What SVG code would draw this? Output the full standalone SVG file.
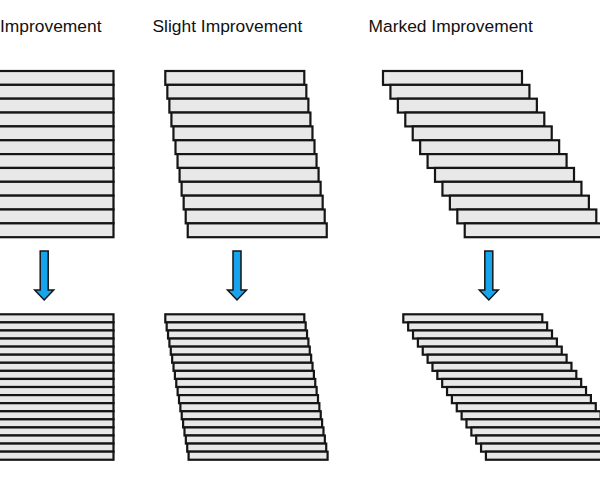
<svg xmlns="http://www.w3.org/2000/svg" width="600" height="480" viewBox="0 0 600 480">
<style>
.bar{fill:#e8e8e8;stroke:#151515;stroke-width:2.2;stroke-linejoin:miter}
.title{font-family:"Liberation Sans",Arial,sans-serif;font-size:17.4px;fill:#111}
.arrow{fill:#18a4ec;stroke:#151515;stroke-width:1.5;stroke-linejoin:miter}
</style>
<rect width="600" height="480" fill="#fff"/>
<g id="titles">
<text class="title" x="0" y="32">Improvement</text>
<text class="title" x="152.5" y="32">Slight Improvement</text>
<text class="title" x="368.5" y="32">Marked Improvement</text>
</g>
<g id="none-before">
<rect class="bar" x="-25.5" y="71" width="139" height="13.85"/>
<rect class="bar" x="-25.5" y="84.85" width="139" height="13.85"/>
<rect class="bar" x="-25.5" y="98.7" width="139" height="13.85"/>
<rect class="bar" x="-25.5" y="112.55" width="139" height="13.85"/>
<rect class="bar" x="-25.5" y="126.4" width="139" height="13.85"/>
<rect class="bar" x="-25.5" y="140.25" width="139" height="13.85"/>
<rect class="bar" x="-25.5" y="154.1" width="139" height="13.85"/>
<rect class="bar" x="-25.5" y="167.95" width="139" height="13.85"/>
<rect class="bar" x="-25.5" y="181.8" width="139" height="13.85"/>
<rect class="bar" x="-25.5" y="195.65" width="139" height="13.85"/>
<rect class="bar" x="-25.5" y="209.5" width="139" height="13.85"/>
<rect class="bar" x="-25.5" y="223.35" width="139" height="13.85"/>
</g>
<g id="slight-before">
<rect class="bar" x="165.3" y="71" width="139" height="13.85"/>
<rect class="bar" x="167.34" y="84.85" width="139" height="13.85"/>
<rect class="bar" x="169.38" y="98.7" width="139" height="13.85"/>
<rect class="bar" x="171.42" y="112.55" width="139" height="13.85"/>
<rect class="bar" x="173.46" y="126.4" width="139" height="13.85"/>
<rect class="bar" x="175.5" y="140.25" width="139" height="13.85"/>
<rect class="bar" x="177.54" y="154.1" width="139" height="13.85"/>
<rect class="bar" x="179.58" y="167.95" width="139" height="13.85"/>
<rect class="bar" x="181.62" y="181.8" width="139" height="13.85"/>
<rect class="bar" x="183.66" y="195.65" width="139" height="13.85"/>
<rect class="bar" x="185.7" y="209.5" width="139" height="13.85"/>
<rect class="bar" x="187.74" y="223.35" width="139" height="13.85"/>
</g>
<g id="marked-before">
<rect class="bar" x="383" y="71" width="139" height="13.85"/>
<rect class="bar" x="390.43" y="84.85" width="139" height="13.85"/>
<rect class="bar" x="397.86" y="98.7" width="139" height="13.85"/>
<rect class="bar" x="405.29" y="112.55" width="139" height="13.85"/>
<rect class="bar" x="412.72" y="126.4" width="139" height="13.85"/>
<rect class="bar" x="420.15" y="140.25" width="139" height="13.85"/>
<rect class="bar" x="427.58" y="154.1" width="139" height="13.85"/>
<rect class="bar" x="435.01" y="167.95" width="139" height="13.85"/>
<rect class="bar" x="442.44" y="181.8" width="139" height="13.85"/>
<rect class="bar" x="449.87" y="195.65" width="139" height="13.85"/>
<rect class="bar" x="457.3" y="209.5" width="139" height="13.85"/>
<rect class="bar" x="464.73" y="223.35" width="139" height="13.85"/>
</g>
<g id="none-after">
<rect class="bar" x="-25.5" y="314.3" width="139" height="8.08"/>
<rect class="bar" x="-25.5" y="322.38" width="139" height="8.08"/>
<rect class="bar" x="-25.5" y="330.46" width="139" height="8.08"/>
<rect class="bar" x="-25.5" y="338.54" width="139" height="8.08"/>
<rect class="bar" x="-25.5" y="346.62" width="139" height="8.08"/>
<rect class="bar" x="-25.5" y="354.7" width="139" height="8.08"/>
<rect class="bar" x="-25.5" y="362.78" width="139" height="8.08"/>
<rect class="bar" x="-25.5" y="370.86" width="139" height="8.08"/>
<rect class="bar" x="-25.5" y="378.94" width="139" height="8.08"/>
<rect class="bar" x="-25.5" y="387.02" width="139" height="8.08"/>
<rect class="bar" x="-25.5" y="395.1" width="139" height="8.08"/>
<rect class="bar" x="-25.5" y="403.18" width="139" height="8.08"/>
<rect class="bar" x="-25.5" y="411.26" width="139" height="8.08"/>
<rect class="bar" x="-25.5" y="419.34" width="139" height="8.08"/>
<rect class="bar" x="-25.5" y="427.42" width="139" height="8.08"/>
<rect class="bar" x="-25.5" y="435.5" width="139" height="8.08"/>
<rect class="bar" x="-25.5" y="443.58" width="139" height="8.08"/>
<rect class="bar" x="-25.5" y="451.66" width="139" height="8.08"/>
</g>
<g id="slight-after">
<rect class="bar" x="165.3" y="314.3" width="139" height="8.08"/>
<rect class="bar" x="166.67" y="322.38" width="139" height="8.08"/>
<rect class="bar" x="168.04" y="330.46" width="139" height="8.08"/>
<rect class="bar" x="169.41" y="338.54" width="139" height="8.08"/>
<rect class="bar" x="170.78" y="346.62" width="139" height="8.08"/>
<rect class="bar" x="172.15" y="354.7" width="139" height="8.08"/>
<rect class="bar" x="173.52" y="362.78" width="139" height="8.08"/>
<rect class="bar" x="174.89" y="370.86" width="139" height="8.08"/>
<rect class="bar" x="176.26" y="378.94" width="139" height="8.08"/>
<rect class="bar" x="177.63" y="387.02" width="139" height="8.08"/>
<rect class="bar" x="179" y="395.1" width="139" height="8.08"/>
<rect class="bar" x="180.37" y="403.18" width="139" height="8.08"/>
<rect class="bar" x="181.74" y="411.26" width="139" height="8.08"/>
<rect class="bar" x="183.11" y="419.34" width="139" height="8.08"/>
<rect class="bar" x="184.48" y="427.42" width="139" height="8.08"/>
<rect class="bar" x="185.85" y="435.5" width="139" height="8.08"/>
<rect class="bar" x="187.22" y="443.58" width="139" height="8.08"/>
<rect class="bar" x="188.59" y="451.66" width="139" height="8.08"/>
</g>
<g id="marked-after">
<rect class="bar" x="403.3" y="314.3" width="139" height="8.08"/>
<rect class="bar" x="408.16" y="322.38" width="139" height="8.08"/>
<rect class="bar" x="413.02" y="330.46" width="139" height="8.08"/>
<rect class="bar" x="417.88" y="338.54" width="139" height="8.08"/>
<rect class="bar" x="422.74" y="346.62" width="139" height="8.08"/>
<rect class="bar" x="427.6" y="354.7" width="139" height="8.08"/>
<rect class="bar" x="432.46" y="362.78" width="139" height="8.08"/>
<rect class="bar" x="437.32" y="370.86" width="139" height="8.08"/>
<rect class="bar" x="442.18" y="378.94" width="139" height="8.08"/>
<rect class="bar" x="447.04" y="387.02" width="139" height="8.08"/>
<rect class="bar" x="451.9" y="395.1" width="139" height="8.08"/>
<rect class="bar" x="456.76" y="403.18" width="139" height="8.08"/>
<rect class="bar" x="461.62" y="411.26" width="139" height="8.08"/>
<rect class="bar" x="466.48" y="419.34" width="139" height="8.08"/>
<rect class="bar" x="471.34" y="427.42" width="139" height="8.08"/>
<rect class="bar" x="476.2" y="435.5" width="139" height="8.08"/>
<rect class="bar" x="481.06" y="443.58" width="139" height="8.08"/>
<rect class="bar" x="485.92" y="451.66" width="139" height="8.08"/>
</g>
<g id="connectors">
<polygon class="arrow" points="40.2,251 48.2,251 48.2,290 53.7,290 44.2,300 34.7,290 40.2,290"/>
<polygon class="arrow" points="233,251 241,251 241,290 246.5,290 237,300 227.5,290 233,290"/>
<polygon class="arrow" points="484.8,251 492.8,251 492.8,290 498.3,290 488.8,300 479.3,290 484.8,290"/>
</g>
</svg>
